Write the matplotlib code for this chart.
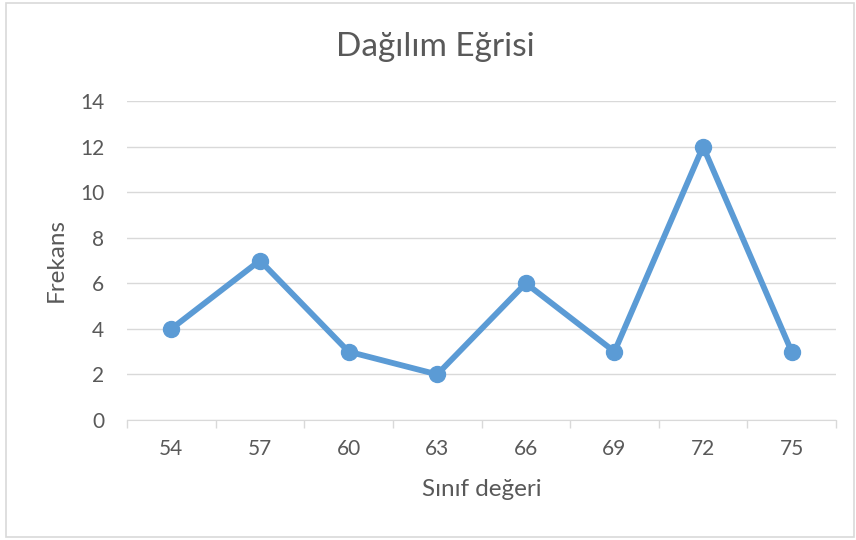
import matplotlib.pyplot as plt
from matplotlib.patches import Rectangle
import numpy as np

# data
siniflar = ['54', '57', '60', '63', '66', '69', '72', '75']
frekans = [4, 7, 3, 2, 6, 3, 12, 3]
y_ticks = [0, 2, 4, 6, 8, 10, 12, 14]

plt.rcParams['font.family'] = ['Lato', 'DejaVu Sans']
gray = '#595959'
grid_col = '#d9d9d9'
blue = '#5b9bd5'

W, H = 856, 540
fig = plt.figure(figsize=(W / 100, H / 100), dpi=100)
ax = fig.add_axes([127/W, 1 - 420/H, (836 - 127)/W, (420 - 101)/H])

x = np.arange(len(siniflar))
ax.plot(x, frekans, color=blue, lw=4.2, marker='o', ms=11.5, solid_joinstyle='round', zorder=3)

ax.set_xlim(-0.5, len(siniflar) - 0.5)
ax.set_ylim(0, 14)
ax.set_yticks(y_ticks)
ax.set_yticklabels([str(v) for v in y_ticks], fontsize=15, color=gray)
ax.tick_params(axis='y', length=0, pad=16.5)
ax.grid(axis='y', color=grid_col, lw=1)
ax.set_axisbelow(True)

# category labels in the middle, tick marks on the boundaries
ax.set_xticks(x)
ax.set_xticklabels(siniflar, fontsize=15, color=gray)
ax.tick_params(axis='x', which='major', length=0, pad=14)
ax.set_xticks(np.arange(-0.5, len(siniflar)), minor=True)
ax.tick_params(axis='x', which='minor', length=6, color=grid_col, width=1)

for s in ['top', 'right', 'left']:
    ax.spines[s].set_visible(False)
ax.spines['bottom'].set_color(grid_col)

ax.set_xlabel('Sınıf değeri', fontsize=17.5, color=gray)
ax.set_ylabel('Frekans', fontsize=17.5, color=gray)
# place axis titles at fixed pixel positions
ax.xaxis.set_label_coords(482/W, 1 - 489/H, transform=fig.transFigure)
ax.xaxis.label.set_va('center')
ax.yaxis.set_label_coords(56/W, 1 - 260/H, transform=fig.transFigure)
ax.yaxis.label.set_va('center')
fig.text(435/W, 1 - 47/H, 'Dağılım Eğrisi', fontsize=24, color=gray, ha='center', va='center')

fig.patches.append(Rectangle((6/W, 3/H), 848/W, 534/H, transform=fig.transFigure,
                             fill=False, edgecolor=grid_col, lw=1.2))

fig.savefig('out.png', dpi=100)
